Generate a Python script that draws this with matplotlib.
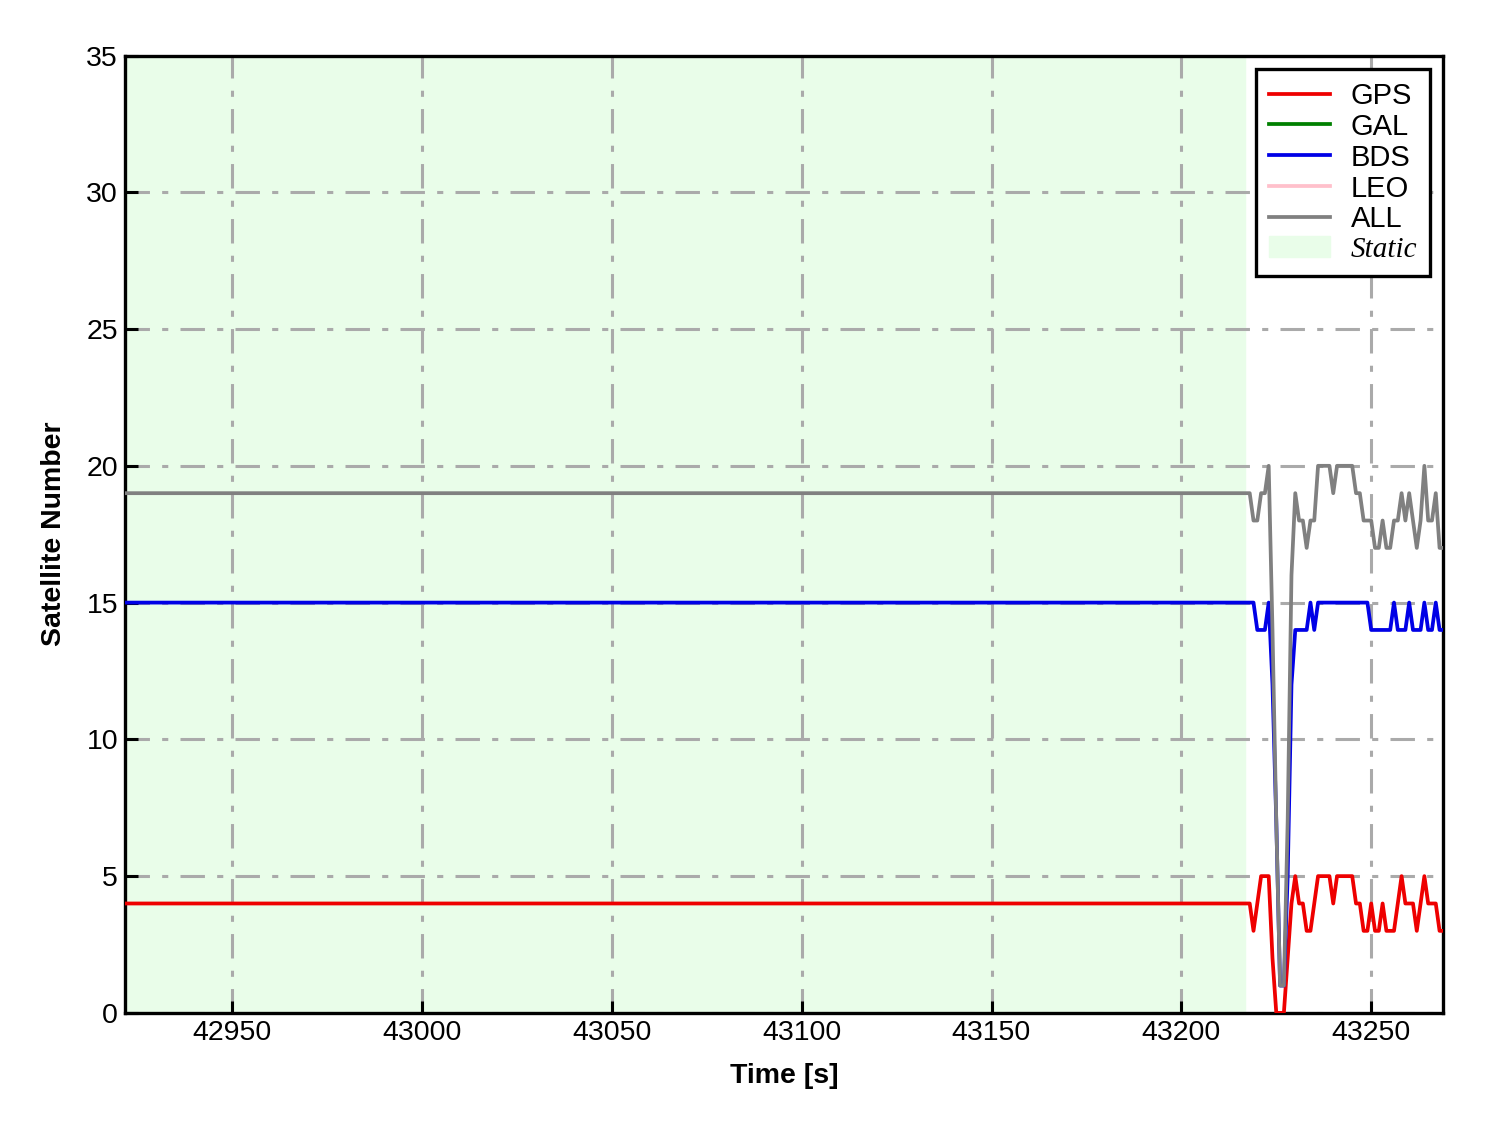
import matplotlib.pyplot as plt

# time stamps [s]; the first one stands for the flat static part
time = [42921.8,
        43217, 43218, 43219, 43220, 43221, 43222, 43223, 43224, 43225, 43226,
        43227, 43228, 43229, 43230, 43231, 43232, 43233, 43234, 43235, 43236,
        43237, 43238, 43239, 43240, 43241, 43242, 43243, 43244, 43245, 43246,
        43247, 43248, 43249, 43250, 43251, 43252, 43253, 43254, 43255, 43256,
        43257, 43258, 43259, 43260, 43261, 43262, 43263, 43264, 43265, 43266,
        43267, 43268, 43269]

gps = [4,
       4, 4, 3, 4, 5, 5, 5, 2, 0, 0,
       0, 2, 4, 5, 4, 4, 3, 3, 4, 5,
       5, 5, 5, 4, 5, 5, 5, 5, 5, 4,
       4, 3, 3, 4, 3, 3, 4, 3, 3, 3,
       4, 5, 4, 4, 4, 3, 4, 5, 4, 4,
       4, 3, 3]

bds = [15,
       15, 15, 15, 14, 14, 14, 15, 12, 7, 1,
       1, 5, 12, 14, 14, 14, 14, 15, 14, 15,
       15, 15, 15, 15, 15, 15, 15, 15, 15, 15,
       15, 15, 15, 14, 14, 14, 14, 14, 14, 15,
       14, 14, 14, 15, 14, 14, 14, 15, 14, 14,
       15, 14, 14]

all_sat = [19,
           19, 19, 18, 18, 19, 19, 20, 14, 7, 1,
           1, 7, 16, 19, 18, 18, 17, 18, 18, 20,
           20, 20, 20, 19, 20, 20, 20, 20, 20, 19,
           19, 18, 18, 18, 17, 17, 18, 17, 17, 18,
           18, 19, 18, 19, 18, 17, 18, 20, 18, 18,
           19, 17, 17]

# GAL and LEO have no observations here
gal = []
leo = []

static_end = 43216.8
xlim = (42921.8, 43269)
xticks = [42950, 43000, 43050, 43100, 43150, 43200, 43250]
yticks = [0, 5, 10, 15, 20, 25, 30, 35]

plt.rcParams['font.family'] = ['Liberation Sans', 'DejaVu Sans']

fig = plt.figure(figsize=(14.88, 11.33), dpi=100)
ax = fig.add_axes([0.084, 0.106, 0.886, 0.845])

ax.axvspan(xlim[0], static_end, color='#e9fde9', zorder=0, label='Static')

lw = 2.7
ax.plot(time, gps, color='#ee0000', lw=lw, label='GPS', zorder=3)
ax.plot(gal, gal, color='green', lw=lw, label='GAL', zorder=3)
ax.plot(time, bds, color='#0000e6', lw=lw, label='BDS', zorder=3)
ax.plot(leo, leo, color='pink', lw=lw, label='LEO', zorder=3)
ax.plot(time, all_sat, color='gray', lw=lw, label='ALL', zorder=4)

ax.set_xlim(*xlim)
ax.set_ylim(0, 35)
ax.set_xticks(xticks)
ax.set_yticks(yticks)
ax.grid(True, color='#aaaaaa', linestyle='-.', linewidth=2.2, dashes=(8, 4, 2, 4))
ax.set_axisbelow(True)

ax.tick_params(direction='in', length=9, width=2.2, labelsize=20.5, pad=5)
for s in ax.spines.values():
    s.set_linewidth(2.4)

ax.set_xlabel('Time [s]', fontsize=20.5, fontweight='bold', labelpad=12)
ax.set_ylabel('Satellite Number', fontsize=20.5, fontweight='bold', labelpad=14)

handles, labels = ax.get_legend_handles_labels()
order = ['GPS', 'GAL', 'BDS', 'LEO', 'ALL', 'Static']
hs = [handles[labels.index(k)] for k in order]
leg = ax.legend(hs, order, loc='upper right', fontsize=21, fancybox=False,
                edgecolor='black', framealpha=1, handlelength=2.1,
                handletextpad=0.7, labelspacing=0.1, borderpad=0.45,
                borderaxespad=0.45)
leg.get_frame().set_linewidth(2.4)
leg.get_texts()[-1].set_fontfamily(['Liberation Serif', 'DejaVu Serif'])
leg.get_texts()[-1].set_fontstyle('italic')

fig.savefig('out.png', dpi=100)
